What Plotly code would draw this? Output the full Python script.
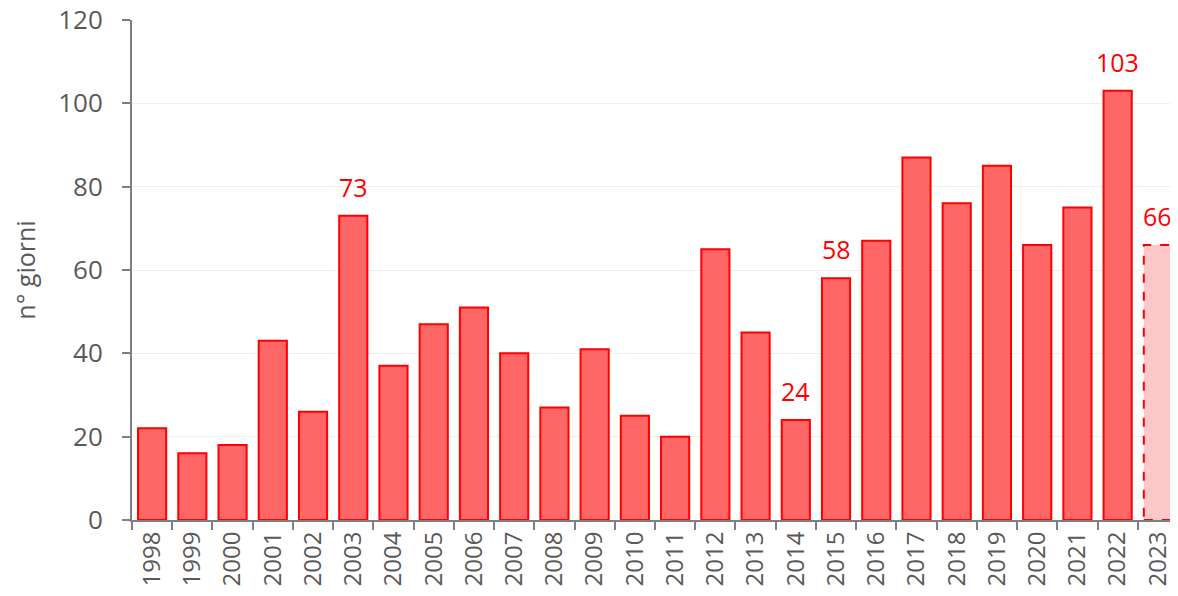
import plotly.graph_objects as go

years = [str(y) for y in range(1998, 2024)]
days = [22, 16, 18, 43, 26, 73, 37, 47, 51, 40, 27, 41, 25, 20,
        65, 45, 24, 58, 67, 87, 76, 85, 66, 75, 103, 66]
labelled = ["2003", "2014", "2015", "2022", "2023"]
partial_year = "2023"

font = "Open Sans"
grey = "#595959"
bar_w = 0.7

fill = ["#FFC8C8" if y == partial_year else "#FF6666" for y in years]
edge = ["rgba(0,0,0,0)" if y == partial_year else "#FF0000" for y in years]

fig = go.Figure()
fig.add_trace(
    go.Bar(
        x=years,
        y=days,
        width=bar_w,
        marker=dict(color=fill, line=dict(color=edge, width=2)),
        showlegend=False,
        hoverinfo="x+y",
    )
)

# dashed outline for the partial year (category index positions)
i = years.index(partial_year)
fig.add_shape(
    type="rect",
    xref="x",
    yref="y",
    x0=i - bar_w / 2,
    x1=i + bar_w / 2,
    y0=0,
    y1=days[i],
    line=dict(color="#FF0000", width=2, dash="dash"),
    fillcolor="rgba(0,0,0,0)",
)

for y in labelled:
    k = years.index(y)
    fig.add_annotation(
        x=k,
        y=days[k],
        text=str(days[k]),
        showarrow=False,
        yanchor="bottom",
        yshift=10,
        font=dict(family=font, size=25, color="#FF0000"),
    )

# page body adds an 8px margin, so the figure is sized to fit the window
fig.update_layout(
    width=1170,
    height=588,
    margin=dict(l=124, r=0, t=12, b=76),
    paper_bgcolor="white",
    plot_bgcolor="white",
    font=dict(family=font, color=grey),
    bargap=0.3,
)
fig.update_xaxes(
    type="category",
    range=[-0.5, len(years) - 0.5],
    showline=True,
    linecolor="#7F7F7F",
    linewidth=2,
    ticks="outside",
    tickson="boundaries",
    ticklen=8,
    tickcolor="#7F7F7F",
    tickwidth=2,
    tickangle=-90,
    tickfont=dict(size=24, color=grey),
    ticklabeloverflow="allow",
    showgrid=False,
    automargin=False,
)
fig.update_yaxes(
    range=[0, 120],
    dtick=20,
    showline=True,
    linecolor="#7F7F7F",
    linewidth=2,
    ticks="outside",
    ticklen=8,
    tickcolor="#7F7F7F",
    tickwidth=2,
    ticklabelstandoff=14,
    ticklabeloverflow="allow",
    tickfont=dict(size=26, color=grey),
    showgrid=True,
    gridcolor="#EFEFEF",
    gridwidth=1,
    zeroline=False,
    title=dict(text="n° giorni", font=dict(size=25, color=grey), standoff=20),
    automargin=False,
)

fig.write_html("out.html")
